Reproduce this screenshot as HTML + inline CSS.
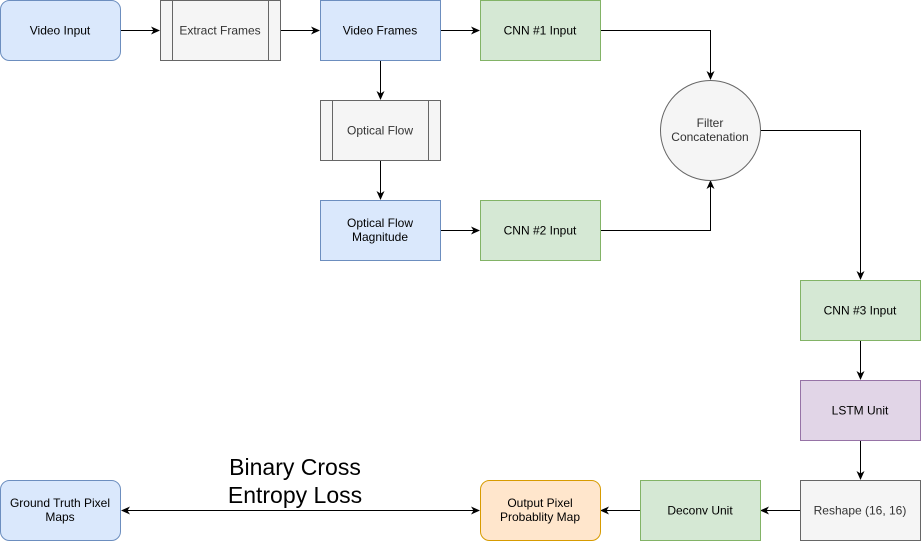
<!DOCTYPE html>
<html><head><meta charset="utf-8"><style>
html,body{margin:0;padding:0;background:#fff;}
svg{display:block;}
text{font-family:"Liberation Sans",Arial,sans-serif;font-size:12px;text-anchor:middle;}
</style></head><body>
<svg width="922" height="541" viewBox="0 0 922 541" xmlns="http://www.w3.org/2000/svg">
<defs>
<marker id="a" markerWidth="10" markerHeight="10" refX="8" refY="5" orient="auto" markerUnits="userSpaceOnUse">
<path d="M0,1 L9,5 L0,9 L2.5,5 Z" fill="#000"/></marker>
<marker id="b" markerWidth="10" markerHeight="10" refX="1" refY="5" orient="auto" markerUnits="userSpaceOnUse">
<path d="M9,1 L0,5 L9,9 L6.5,5 Z" fill="#000"/></marker>
</defs>
<g stroke="#000" stroke-width="1" fill="none">
<path d="M120.5,30.5 H159" marker-end="url(#a)"/>
<path d="M280.5,30.5 H319" marker-end="url(#a)"/>
<path d="M440.5,30.5 H479" marker-end="url(#a)"/>
<path d="M380.5,60.5 V99" marker-end="url(#a)"/>
<path d="M380.5,160.5 V199" marker-end="url(#a)"/>
<path d="M440.5,230.5 H479" marker-end="url(#a)"/>
<path d="M600.5,30.5 H710.5 V79" marker-end="url(#a)"/>
<path d="M600.5,230.5 H710.5 V181" marker-end="url(#a)"/>
<path d="M760.5,130.5 H860.5 V279" marker-end="url(#a)"/>
<path d="M860.5,340.5 V379" marker-end="url(#a)"/>
<path d="M860.5,440.5 V479" marker-end="url(#a)"/>
<path d="M800.5,510.5 H761" marker-end="url(#a)"/>
<path d="M640.5,510.5 H601" marker-end="url(#a)"/>
<path d="M122,510.5 H479" marker-start="url(#b)" marker-end="url(#a)"/>
</g>
<rect x="0.5" y="0.5" width="120" height="60" rx="9" fill="#dae8fc" stroke="#6c8ebf"/>
<text x="60" y="34.5">Video Input</text>
<rect x="160.5" y="0.5" width="120" height="60" fill="#f5f5f5" stroke="#666"/>
<path d="M172.5,0.5V60.5M268.5,0.5V60.5" stroke="#666"/>
<text x="220" y="34.5" fill="#333">Extract Frames</text>
<rect x="320.5" y="0.5" width="120" height="60" fill="#dae8fc" stroke="#6c8ebf"/>
<text x="380" y="34.5">Video Frames</text>
<rect x="480.5" y="0.5" width="120" height="60" fill="#d5e8d4" stroke="#82b366"/>
<text x="540" y="34.5">CNN #1 Input</text>
<rect x="320.5" y="100.5" width="120" height="60" fill="#f5f5f5" stroke="#666"/>
<path d="M332.5,100.5V160.5M428.5,100.5V160.5" stroke="#666"/>
<text x="380" y="134.5" fill="#333">Optical Flow</text>
<rect x="320.5" y="200.5" width="120" height="60" fill="#dae8fc" stroke="#6c8ebf"/>
<text x="380" y="227">Optical Flow</text><text x="380" y="241">Magnitude</text>
<rect x="480.5" y="200.5" width="120" height="60" fill="#d5e8d4" stroke="#82b366"/>
<text x="540" y="234.5">CNN #2 Input</text>
<circle cx="710.5" cy="130.5" r="50" fill="#f5f5f5" stroke="#666"/>
<text x="710" y="127" fill="#333">Filter</text><text x="710" y="141" fill="#333">Concatenation</text>
<rect x="800.5" y="280.5" width="120" height="60" fill="#d5e8d4" stroke="#82b366"/>
<text x="860" y="314.5">CNN #3 Input</text>
<rect x="800.5" y="380.5" width="120" height="60" fill="#e1d5e7" stroke="#9673a6"/>
<text x="860" y="414.5">LSTM Unit</text>
<rect x="800.5" y="480.5" width="120" height="60" fill="#f5f5f5" stroke="#666"/>
<text x="860" y="514.5" fill="#333">Reshape (16, 16)</text>
<rect x="640.5" y="480.5" width="120" height="60" fill="#d5e8d4" stroke="#82b366"/>
<text x="700" y="514.5">Deconv Unit</text>
<rect x="480.5" y="480.5" width="120" height="60" rx="9" fill="#ffe6cc" stroke="#d79b00"/>
<text x="540" y="507">Output Pixel</text><text x="540" y="521">Probablity Map</text>
<rect x="0.5" y="480.5" width="120" height="60" rx="9" fill="#dae8fc" stroke="#6c8ebf"/>
<text x="60" y="507">Ground Truth Pixel</text><text x="60" y="521">Maps</text>
<text x="295" y="475" style="font-size:23px">Binary Cross</text>
<text x="295" y="503" style="font-size:23px">Entropy Loss</text>
</svg>
</body></html>
